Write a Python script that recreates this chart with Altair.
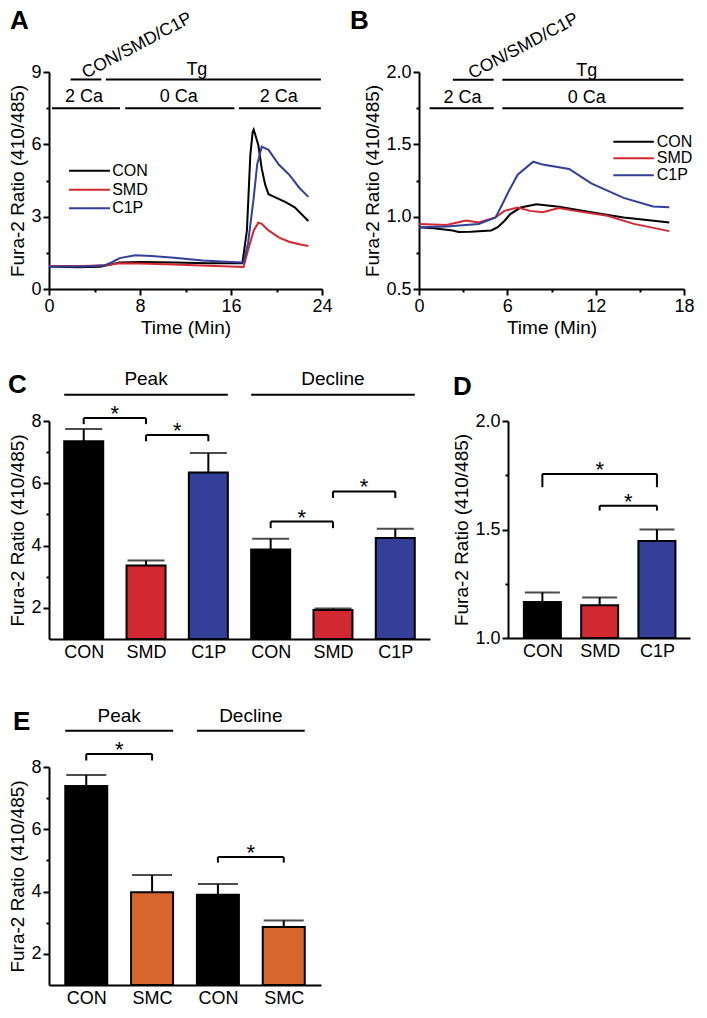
import altair as alt
import pandas as pd

FONT = "Liberation Sans"
INK = "#000000"
RED = "#d12831"
BLUE = "#333f99"
ORANGE = "#d8652e"
YTITLE = "Fura-2 Ratio (410/485)"

color_names = ["CON", "SMD", "C1P", "SMC"]
color_values = [INK, RED, BLUE, ORANGE]
series_names = ["CON", "SMD", "C1P"]

# ---------------- Panel A traces ----------------
a_con_t = [0, 2.5, 4.5, 5.3, 6.2, 8, 11, 14, 17.0, 17.4, 17.7, 17.9, 18.0, 18.4, 18.7, 19.0, 19.3, 19.9, 20.8, 21.6, 22.8]
a_con_v = [0.93, 0.9, 0.92, 1.0, 1.1, 1.12, 1.1, 1.07, 1.07, 2.43, 5.56, 6.5, 6.61, 5.97, 5.0, 4.34, 3.93, 3.8, 3.6, 3.39, 2.82]
a_smd_t = [0, 3, 5, 6.2, 8, 11, 14, 17.1, 17.5, 18.0, 18.4, 18.7, 19.3, 20.2, 21.1, 22.0, 22.8]
a_smd_v = [0.95, 0.95, 0.98, 1.07, 1.06, 1.02, 0.96, 0.91, 1.62, 2.43, 2.75, 2.7, 2.43, 2.14, 1.96, 1.86, 1.78]
a_c1p_t = [0, 3, 4.8, 5.5, 6.2, 7.6, 9, 11, 13.5, 16, 17.1, 17.5, 18.0, 18.3, 18.7, 19.3, 20.2, 21.1, 22.0, 22.8]
a_c1p_v = [0.93, 0.93, 0.97, 1.1, 1.28, 1.4, 1.37, 1.3, 1.18, 1.12, 1.1, 1.9, 3.8, 5.16, 5.9, 5.77, 5.16, 4.75, 4.2, 3.82]

# bars over panel A (start, end, level) and their labels
a_bar_x1 = [1.9, 5.0, 0.26, 6.7, 16.7]
a_bar_x2 = [4.6, 23.9, 6.24, 16.3, 23.9]
a_bar_y = [8.69, 8.69, 7.5, 7.5, 7.5]
a_lab = ["Tg", "2 Ca", "0 Ca", "2 Ca"]
a_lab_x = [13.0, 3.08, 11.4, 20.2]
a_lab_y = [9.08, 7.96, 7.96, 7.96]
a_rot_x, a_rot_y = [7.75], [10.09]
a_leg_x1, a_leg_x2, a_leg_tx = 1.76, 5.36, 5.55
a_leg_y = [4.9, 4.12, 3.35]

# ---------------- Panel B traces ----------------
b_con_t = [0, 1, 2.28, 2.7, 3.5, 4.9, 5.35, 5.8, 6.2, 6.9, 7.98, 9.5, 11.7, 13.9, 16.1, 17.0]
b_con_v = [0.927, 0.92, 0.905, 0.894, 0.895, 0.905, 0.927, 0.97, 1.018, 1.063, 1.086, 1.068, 1.03, 0.995, 0.97, 0.96]
b_smd_t = [0, 1.86, 3.2, 4.06, 5.2, 5.8, 6.7, 7.55, 8.4, 9.5, 10.6, 12.8, 14.6, 17.0]
b_smd_v = [0.95, 0.943, 0.973, 0.96, 0.995, 1.04, 1.063, 1.04, 1.03, 1.06, 1.04, 1.006, 0.95, 0.90]
b_c1p_t = [0, 1.86, 4.06, 5.2, 5.66, 6.1, 6.7, 7.76, 8.4, 10.2, 11.7, 13.9, 15.9, 17.0]
b_c1p_v = [0.927, 0.932, 0.95, 0.995, 1.086, 1.177, 1.29, 1.38, 1.36, 1.33, 1.23, 1.13, 1.07, 1.065]

b_bar_x1 = [2.3, 5.66, 0.72, 5.66]
b_bar_x2 = [5.07, 17.96, 5.07, 17.96]
b_bar_y = [1.946, 1.946, 1.749, 1.749]
b_lab = ["Tg", "2 Ca", "0 Ca"]
b_lab_x = [11.4, 2.95, 11.4]
b_lab_y = [2.008, 1.822, 1.822]
b_rot_x, b_rot_y = [7.1], [2.178]
b_leg_x1, b_leg_x2, b_leg_tx = 13.2, 15.95, 16.15
b_leg_y = [1.518, 1.403, 1.287]

# ---------------- Panel C bars ----------------
c_cond = ["CON", "SMD", "C1P", "CON", "SMD", "C1P"]
c_mean = [7.35, 3.36, 6.35, 3.87, 1.93, 4.24]
c_err = [7.74, 3.52, 6.97, 4.22, 1.98, 4.54]
c_groups = ["Peak", "Decline"]
c_group_first = [0, 3]
c_group_last = [2, 5]
c_br_from = [0, 1, 3, 4]
c_br_to = [1, 2, 4, 5]
c_br_top = [8.1, 7.55, 4.77, 5.74]
c_br_foot = [7.9, 7.35, 4.56, 5.53]

# ---------------- Panel D bars ----------------
d_cond = ["CON", "SMD", "C1P"]
d_mean = [1.166, 1.151, 1.447]
d_err = [1.21, 1.187, 1.50]
d_br_from = [0, 1]
d_br_to = [2, 2]
d_br_top = [1.756, 1.61]
d_br_foot = [1.695, 1.587]

# ---------------- Panel E bars ----------------
e_cond = ["CON", "SMC", "CON", "SMC"]
e_mean = [7.39, 3.98, 3.90, 2.86]
e_err = [7.74, 4.53, 4.24, 3.07]
e_groups = ["Peak", "Decline"]
e_group_first = [0, 2]
e_group_last = [1, 3]
e_br_from = [0, 2]
e_br_to = [1, 3]
e_br_top = [8.42, 5.11]
e_br_foot = [8.21, 4.93]

COLOR_SCALE = alt.Scale(domain=color_names, range=color_values)


def qaxis(values, major, title, fmt=None):
    kw = dict(values=values,
              labelExpr="(" + major + ") ? datum.label : ''",
              tickSize={"condition": {"test": major, "value": 6}, "value": 3},
              labelFlush=False, labelPadding=2, titlePadding=3, title=title)
    if fmt:
        kw["format"] = fmt
    return alt.Axis(**kw)


def letter_layer(letter, px, py):
    return alt.Chart(pd.DataFrame({"l": [letter]})).mark_text(
        fontSize=26, fontWeight="bold", align="left", baseline="alphabetic", color=INK
    ).encode(x=alt.value(px), y=alt.value(py), text="l:N")


def trace_panel(letter, lpos, width, height, ts, vs, xdom, xvals, xmajor, ydom, yvals, ymajor, yfmt,
                bx1, bx2, by, lab, lx, ly, rx, ry, lgx1, lgx2, lgtx, lgy):
    rows = []
    for name, t, v in zip(series_names, ts, vs):
        rows += [{"t": a, "v": b, "s": name} for a, b in zip(t, v)]
    df = pd.DataFrame(rows)
    xs = alt.Scale(domain=xdom, nice=False, zero=False)
    ys = alt.Scale(domain=ydom, nice=False, zero=False)
    xa = qaxis(xvals, xmajor, "Time (Min)")
    ya = qaxis(yvals, ymajor, YTITLE, yfmt)

    def X(f):
        return alt.X(f, scale=xs, axis=xa)

    def Y(f):
        return alt.Y(f, scale=ys, axis=ya)

    col = alt.Color("s:N", scale=COLOR_SCALE, legend=None)
    lines = alt.Chart(df).mark_line(strokeWidth=2).encode(
        x=X("t:Q"), y=Y("v:Q"), color=col, detail="s:N", order="t:Q")
    bars = alt.Chart(pd.DataFrame({"t": bx1, "x2": bx2, "v": by})).mark_rule(
        strokeWidth=2, color=INK).encode(x=X("t:Q"), x2="x2:Q", y=Y("v:Q"))
    labs = alt.Chart(pd.DataFrame({"t": lx, "v": ly, "lab": lab})).mark_text(
        fontSize=18, color=INK, baseline="middle").encode(x=X("t:Q"), y=Y("v:Q"), text="lab:N")
    rot = alt.Chart(pd.DataFrame({"t": rx, "v": ry, "lab": ["CON/SMD/C1P"]})).mark_text(
        fontSize=17.5, color=INK, angle=332, align="center", baseline="middle").encode(
        x=X("t:Q"), y=Y("v:Q"), text="lab:N")
    legdf = pd.DataFrame({"s": series_names, "t": [lgx1] * 3, "x2": [lgx2] * 3,
                          "tx": [lgtx] * 3, "v": lgy})
    legl = alt.Chart(legdf).mark_rule(strokeWidth=2).encode(
        x=X("t:Q"), x2="x2:Q", y=Y("v:Q"), color=col)
    legt = alt.Chart(legdf).mark_text(fontSize=16, align="left", baseline="middle", color=INK).encode(
        x=X("tx:Q"), y=Y("v:Q"), text="s:N")
    return alt.layer(lines, bars, labs, rot, legl, legt,
                     letter_layer(letter, lpos[0], lpos[1])).properties(width=width, height=height)


def bar_panel(letter, lpos, conds, means, errs, xdom, width, height, bar_w, cap_w,
              ydom, yvals, ymajor, yfmt, br_from, br_to, br_top, br_foot,
              groups=None, gfirst=None, glast=None, gline_y=None, gtext_y=None):
    n = len(conds)
    df = pd.DataFrame({"pos": list(range(n)), "cond": conds, "val": means, "err": errs})
    names = "[" + ",".join("'" + c + "'" for c in conds) + "]"
    xs = alt.Scale(domain=xdom, nice=False, zero=False)
    ys = alt.Scale(domain=ydom, nice=False, zero=False)
    xa = alt.Axis(values=list(range(n)), labelExpr=names + "[datum.value]", ticks=False,
                  title=None, labelFlush=False, labelPadding=4, grid=False)
    ya = qaxis(yvals, ymajor, YTITLE, yfmt)

    def X(f):
        return alt.X(f, scale=xs, axis=xa)

    def Y(f):
        return alt.Y(f, scale=ys, axis=ya)

    bars = alt.Chart(df).mark_bar(size=bar_w, stroke=INK, strokeWidth=2, orient="vertical").encode(
        x=X("pos:Q"), y=Y("val:Q"), y2=alt.Y2(datum=ydom[0]),
        color=alt.Color("cond:N", scale=COLOR_SCALE, legend=None))
    ebar = alt.Chart(df).mark_rule(strokeWidth=2, color=INK).encode(
        x=X("pos:Q"), y=Y("val:Q"), y2="err:Q")
    cap = alt.Chart(df).mark_tick(thickness=2, size=cap_w, color=INK, orient="horizontal").encode(
        x=X("pos:Q"), y=Y("err:Q"))
    brdf = pd.DataFrame({"pos": br_from, "b": br_to, "val": br_top, "foot": br_foot})
    brdf["mid"] = (brdf["pos"] + brdf["b"]) / 2
    legs = pd.DataFrame({"pos": br_from + br_to, "val": br_top * 2, "foot": br_foot * 2})
    hbr = alt.Chart(brdf).mark_rule(strokeWidth=2, color=INK).encode(
        x=X("pos:Q"), x2="b:Q", y=Y("val:Q"))
    vbr = alt.Chart(legs).mark_rule(strokeWidth=2, color=INK).encode(
        x=X("pos:Q"), y=Y("val:Q"), y2="foot:Q")
    star = alt.Chart(brdf).mark_text(text="*", fontSize=22, baseline="alphabetic", dy=3, color=INK).encode(
        x=X("mid:Q"), y=Y("val:Q"))
    layers = [bars, ebar, cap, hbr, vbr, star]
    if groups:
        gdf = pd.DataFrame({"g": groups, "pos": gfirst, "b": glast,
                            "val": [gline_y] * len(groups), "ty": [gtext_y] * len(groups)})
        gdf["mid"] = (gdf["pos"] + gdf["b"]) / 2
        gl = alt.Chart(gdf).mark_rule(strokeWidth=2, color=INK, xOffset=-bar_w / 2,
                                      x2Offset=bar_w / 2).encode(
            x=X("pos:Q"), x2="b:Q", y=Y("val:Q"))
        gt = alt.Chart(gdf).mark_text(fontSize=19, baseline="middle", color=INK).encode(
            x=X("mid:Q"), y=Y("ty:Q"), text="g:N")
        layers += [gl, gt]
    layers.append(letter_layer(letter, lpos[0], lpos[1]))
    return alt.layer(*layers).properties(width=width, height=height)


panelA = trace_panel("A", (-39, -43), 273, 217, [a_con_t, a_smd_t, a_c1p_t], [a_con_v, a_smd_v, a_c1p_v],
                     [0, 24], [0, 4, 8, 12, 16, 20, 24], "datum.value % 8 === 0",
                     [0, 9], [0, 1.5, 3, 4.5, 6, 7.5, 9], "datum.value % 3 === 0", None,
                     a_bar_x1, a_bar_x2, a_bar_y, a_lab, a_lab_x, a_lab_y, a_rot_x, a_rot_y,
                     a_leg_x1, a_leg_x2, a_leg_tx, a_leg_y)

half_test = "abs(datum.value * 2 - round(datum.value * 2)) < 0.001"
panelB = trace_panel("B", (-69, -43), 265, 217, [b_con_t, b_smd_t, b_c1p_t], [b_con_v, b_smd_v, b_c1p_v],
                     [0, 18], [0, 3, 6, 9, 12, 15, 18], "datum.value % 6 === 0",
                     [0.5, 2.0], [0.5, 0.75, 1.0, 1.25, 1.5, 1.75, 2.0], half_test, ".1f",
                     b_bar_x1, b_bar_x2, b_bar_y, b_lab, b_lab_x, b_lab_y, b_rot_x, b_rot_y,
                     b_leg_x1, b_leg_x2, b_leg_tx, b_leg_y)

panelC = bar_panel("C", (-41, -28), c_cond, c_mean, c_err,
                   [-0.477, 5.477], 381, 218, 39, 37,
                   [1, 8], [2, 3, 4, 5, 6, 7, 8], "datum.value % 2 === 0", None,
                   c_br_from, c_br_to, c_br_top, c_br_foot,
                   c_groups, c_group_first, c_group_last, 8.84, 9.36)

panelD = bar_panel("D", (-55, -26), d_cond, d_mean, d_err,
                   [-0.513, 2.49], 182, 217, 37, 35,
                   [1, 2], [1.0, 1.25, 1.5, 1.75, 2.0], half_test, ".1f",
                   d_br_from, d_br_to, d_br_top, d_br_foot)

panelE = bar_panel("E", (-36, -37), e_cond, e_mean, e_err,
                   [-0.49, 3.49], 272, 218, 42, 40,
                   [1, 8], [2, 3, 4, 5, 6, 7, 8], "datum.value % 2 === 0", None,
                   e_br_from, e_br_to, e_br_top, e_br_foot,
                   e_groups, e_group_first, e_group_last, 9.16, 9.63)

row1 = alt.hconcat(panelA, panelB, spacing=17)
row2 = alt.hconcat(panelC, panelD, spacing=22)
top = alt.vconcat(row1, row2, spacing=32)
chart = alt.vconcat(top, panelE, spacing=46).properties(padding=0)

chart = chart.configure(font=FONT).configure_view(stroke=None).configure_axis(
    domainColor=INK, domainWidth=2, tickColor=INK, tickWidth=2, labelColor=INK,
    labelFontSize=18, titleFontSize=19, titleFontWeight="normal", titleColor=INK, grid=False,
    labelFont=FONT, titleFont=FONT)

chart.save("out.html", embed_options={"renderer": "svg", "actions": False})
